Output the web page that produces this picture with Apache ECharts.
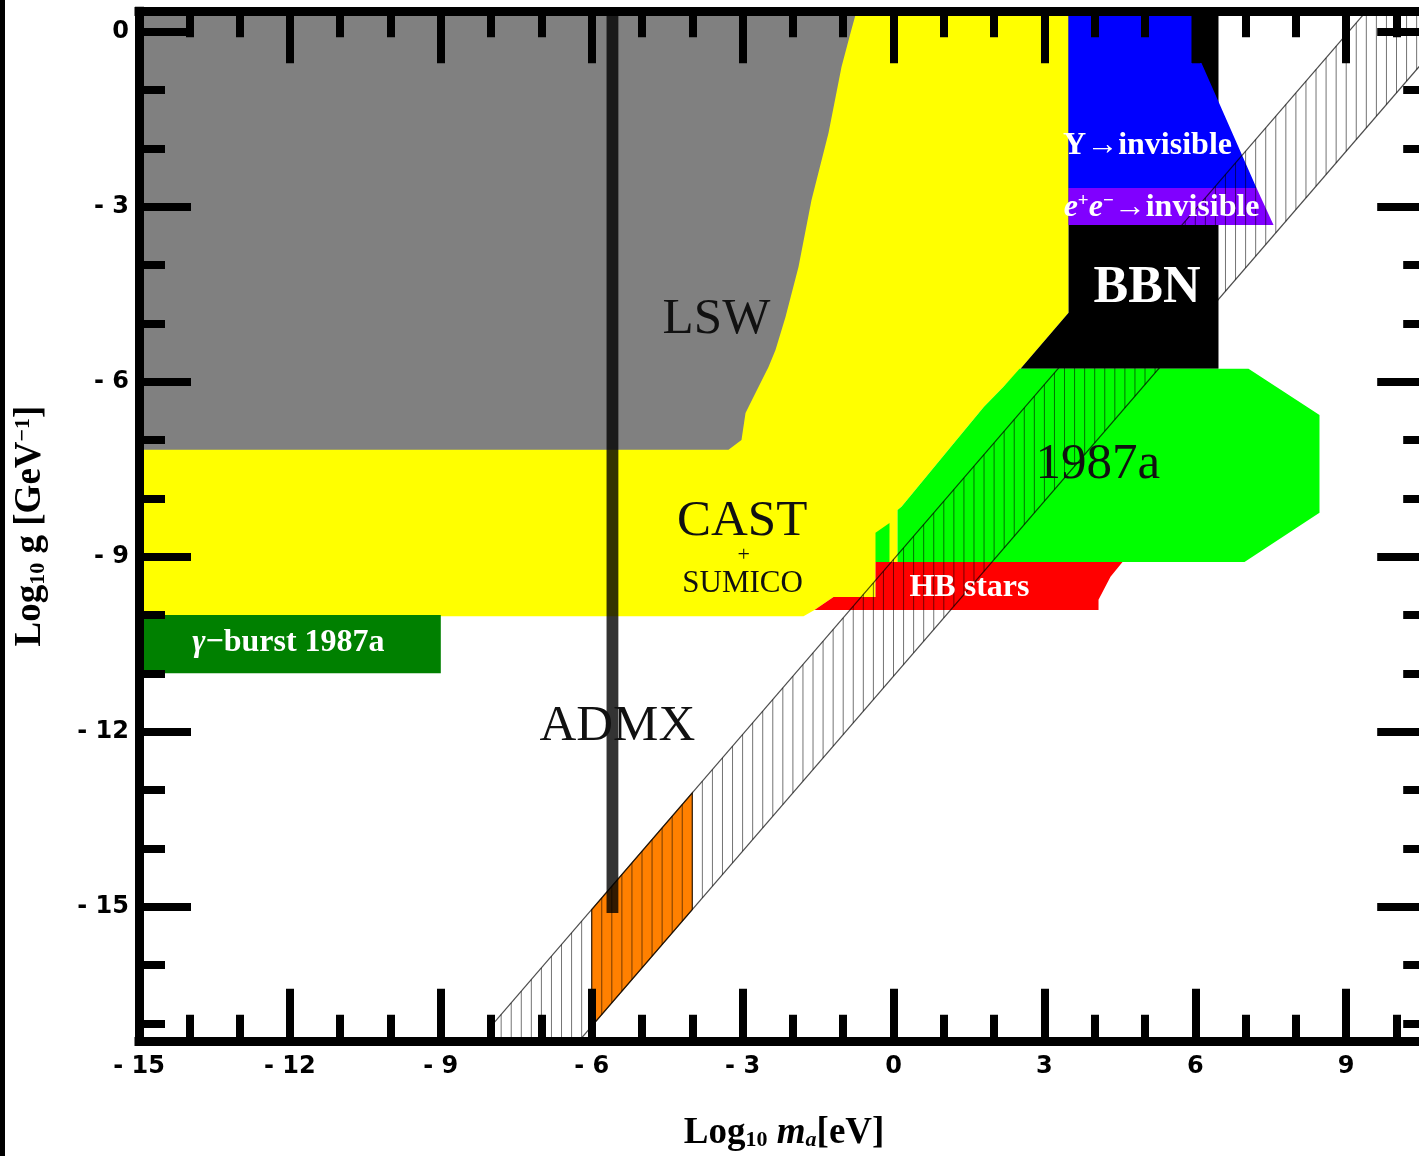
<!DOCTYPE html>
<html>
<head>
<meta charset="utf-8">
<title>Axion-like particle exclusion limits</title>
<script src="https://cdn.jsdelivr.net/npm/echarts@6.0.0/dist/echarts.min.js"></script>
<style>
  html, body { margin: 0; padding: 0; background: #fff; }
  #chart { width: 1419px; height: 1156px; }
</style>
</head>
<body>
<div id="chart"></div>
<script>
// ---------- axes (log10 units) ----------
const xExtent = [-15, 10.65];
const yExtent = [-17.3, 0.35];
const xMajorTicks = [-15, -12, -9, -6, -3, 0, 3, 6, 9];
const xMinorTicks = [-14, -13, -11, -10, -8, -7, -5, -4, -2, -1, 1, 2, 4, 5, 7, 8, 10];
const yMajorTicks = [0, -3, -6, -9, -12, -15];
const yMinorTicks = [-1, -2, -4, -5, -7, -8, -10, -11, -13, -14, -16, -17];

// ---------- excluded regions: vertices [log10 m_a (eV), log10 g (GeV^-1)] ----------
const castSumico = [[-15, 0.35], [3.48, 0.35], [3.48, -4.82], [2.525, -5.78], [2.187, -6.087],
  [1.799, -6.429], [1.093, -7.17], [0.159, -8.147], [0.08, -8.199], [0.08, -9.09], [-0.358, -9.09],
  [-0.358, -9.69], [-1.193, -9.69], [-1.571, -9.913], [-1.789, -10.02], [-15, -10.02]];
const lsw = [[-15, 0.35], [-0.736, 0.35], [-0.855, -0.024], [-1.034, -0.607], [-1.292, -1.738],
  [-1.63, -2.886], [-1.889, -4.034], [-2.147, -4.891], [-2.346, -5.457], [-2.485, -5.748],
  [-2.744, -6.194], [-2.942, -6.537], [-3.022, -6.999], [-3.28, -7.17], [-15, -7.17]];
const bbn = [[2.525, -5.78], [3.48, -4.82], [3.48, 0.35], [6.461, 0.35], [6.461, -5.78]];
const upsilonInvisible = [[3.48, 0.35], [5.924, 0.35], [5.924, -0.538], [6.123, -0.538],
  [7.217, -2.68], [3.48, -2.68]];
const eeInvisible = [[3.48, -2.68], [7.217, -2.68], [7.555, -3.315], [3.48, -3.315]];
const sn1987a = [[2.505, -5.78], [7.058, -5.78], [8.469, -6.571], [8.469, -8.25], [6.978, -9.09],
  [0.08, -9.09], [0.08, -8.199], [0.159, -8.147], [1.093, -7.17], [1.799, -6.429], [2.187, -6.087]];
const sn1987aSliver = [[-0.358, -9.09], [-0.358, -8.59], [-0.08, -8.422], [-0.08, -9.09]];
const hbStars = [[-1.571, -9.913], [-1.193, -9.69], [-0.358, -9.69], [-0.358, -9.09], [4.553, -9.09],
  [4.314, -9.347], [4.076, -9.74], [4.076, -9.913]];
const gammaBurst = [[-15, -10], [-9, -10], [-9, -11], [-15, -11]];
const admxReach = [[-6, -15.05], [-4, -13.05], [-4, -15.05], [-6, -17.05]];
const admx = [[-5.705, 0.35], [-5.47, 0.35], [-5.47, -15.11], [-5.705, -15.11]];

// ---------- axion model band (edges) ----------
const axionBandUpper = [[-8, -17.05], [11, 1.95]];
const axionBandLower = [[-8, -19.05], [11, -0.05]];

// ---------- region labels ----------
const annotations = [
  { text: 'LSW', at: [-3.52, -4.94], style: 'dark' },
  { text: 'CAST', at: [-3.01, -8.40], style: 'dark' },
  { text: '+', at: [-2.98, -8.97], style: 'darkSmall' },
  { text: 'SUMICO', at: [-3.0, -9.46], style: 'darkMid' },
  { text: 'ADMX', at: [-5.49, -11.92], style: 'dark' },
  { text: '1987a', at: [4.06, -7.43], style: 'dark' },
  { text: 'BBN', at: [5.04, -4.40], style: 'lightBig' },
  { text: '\u03A5\u2192invisible', at: [5.05, -1.95], style: 'light' },
  { text: '{it|e}{sup|+}{it|e}{sup|\u2212}\u2192invisible', at: [5.33, -3.02], style: 'light' },
  { text: 'HB stars', at: [1.51, -9.53], style: 'light' },
  { text: '{it|\u03B3}\u2212burst 1987a', at: [-12.03, -10.47], style: 'light' }
];

// ---------- styling ----------
const SERIF = '"Liberation Serif", "Times New Roman", serif';
const SANS = '"DejaVu Sans", sans-serif';

const regionLayers = [
  { pts: castSumico, fill: '#ffff00' },
  { pts: lsw, fill: '#808080' },
  { pts: bbn, fill: '#000000' },
  { pts: upsilonInvisible, fill: '#0000ff' },
  { pts: eeInvisible, fill: '#8000ff' },
  { pts: sn1987a, fill: '#00ff00' },
  { pts: sn1987aSliver, fill: '#00ff00' },
  { pts: hbStars, fill: '#ff0000' },
  { pts: gammaBurst, fill: '#008000' },
  { pts: admxReach, fill: '#ff8000', stroke: 'rgba(60,30,0,0.8)', lineWidth: 1.2 },
  { pts: admx, fill: 'rgba(0,0,0,0.8)' }
];

const HATCH_STEP = 0.2;

const labelStyles = {
  dark:      { size: 51, weight: 'normal', color: '#111' },
  darkSmall: { size: 22, weight: 'normal', color: '#111' },
  darkMid:   { size: 31, weight: 'normal', color: '#111' },
  lightBig:  { size: 52, weight: 'bold', color: '#fff' },
  light:     { size: 32, weight: 'bold', color: '#fff' }
};

function lerpY(line, x) {
  const [[x0, y0], [x1, y1]] = line;
  return y0 + (y1 - y0) * (x - x0) / (x1 - x0);
}

function frameAxis(position, majors, minors, isMajor, withLabels) {
  const isX = position === 'bottom' || position === 'top';
  const ext = isX ? xExtent : yExtent;
  return {
    type: 'value',
    position: position,
    min: ext[0],
    max: ext[1],
    z: 20,
    splitLine: { show: false },
    minorTick: { show: false },
    axisLine: {
      show: isMajor,
      onZero: false,
      lineStyle: { color: '#000', width: 9, cap: 'square' }
    },
    axisTick: {
      show: true,
      inside: true,
      length: isMajor ? 52 : 26,
      customValues: isMajor ? majors : minors,
      lineStyle: { color: '#000', width: 8 }
    },
    axisLabel: {
      show: withLabels,
      customValues: majors,
      margin: isX ? 14 : 10,
      color: '#000',
      fontFamily: SANS,
      fontWeight: 'bold',
      fontSize: 24,
      formatter: v => (v < 0 ? '- ' + (-v) : String(v))
    }
  };
}

const xAxes = [
  frameAxis('bottom', xMajorTicks, xMinorTicks, true, true),
  frameAxis('bottom', xMajorTicks, xMinorTicks, false, false),
  frameAxis('top', xMajorTicks, xMinorTicks, true, false),
  frameAxis('top', xMajorTicks, xMinorTicks, false, false)
];
const yAxes = [
  frameAxis('left', yMajorTicks, yMinorTicks, true, true),
  frameAxis('left', yMajorTicks, yMinorTicks, false, false),
  frameAxis('right', yMajorTicks, yMinorTicks, true, false),
  frameAxis('right', yMajorTicks, yMinorTicks, false, false)
];

const titleRich = {
  b:  { fontFamily: SERIF, fontWeight: 'bold', fontSize: 37, color: '#000' },
  s:  { fontFamily: SERIF, fontWeight: 'bold', fontSize: 22, color: '#000', verticalAlign: 'bottom', lineHeight: 14 },
  i:  { fontFamily: SERIF, fontWeight: 'bold', fontStyle: 'italic', fontSize: 37, color: '#000' },
  si: { fontFamily: SERIF, fontWeight: 'bold', fontStyle: 'italic', fontSize: 22, color: '#000', verticalAlign: 'bottom', lineHeight: 14 },
  p:  { fontFamily: SERIF, fontWeight: 'bold', fontSize: 22, color: '#000', verticalAlign: 'top', lineHeight: 16 }
};

xAxes[0].name = '{b|Log}{s|10}{b| }{i|m}{si|a}{b|[eV]}';
xAxes[0].nameLocation = 'middle';
xAxes[0].nameGap = 74;
xAxes[0].nameTextStyle = { rich: titleRich };

yAxes[0].name = '{b|Log}{s|10}{b| g [GeV}{p|\u22121}{b|]}';
yAxes[0].nameLocation = 'middle';
yAxes[0].nameGap = 90;
yAxes[0].nameRotate = 90;
yAxes[0].nameTextStyle = { rich: titleRich };

const option = {
  animation: false,
  backgroundColor: '#ffffff',
  grid: { left: 139, top: 11.2, right: -10.2, bottom: 115.2, containLabel: false, outerBoundsMode: 'none' },
  xAxis: xAxes,
  yAxis: yAxes,
  graphic: [
    { type: 'rect', left: 0, top: 0, shape: { width: 5, height: 1156 }, style: { fill: '#000' }, z: 100 }
  ],
  series: [
    {
      type: 'custom',
      name: 'excluded regions',
      clip: true,
      silent: true,
      data: regionLayers.map((r, i) => [r.pts[0][0], r.pts[0][1], i]),
      renderItem(params, api) {
        const layer = regionLayers[params.dataIndex];
        return {
          type: 'polygon',
          shape: { points: layer.pts.map(p => api.coord(p)) },
          style: {
            fill: layer.fill,
            stroke: layer.stroke || null,
            lineWidth: layer.lineWidth || 0
          }
        };
      },
      z: 2
    },
    {
      type: 'custom',
      name: 'axion band',
      clip: true,
      silent: true,
      data: [[axionBandUpper[0][0], axionBandUpper[0][1]]],
      renderItem(params, api) {
        const children = [];
        const x0 = axionBandUpper[0][0];
        const x1 = axionBandUpper[1][0];
        const n = Math.round((x1 - x0) / HATCH_STEP);
        for (let k = 0; k <= n; k++) {
          const x = x0 + k * HATCH_STEP;
          const a = api.coord([x, lerpY(axionBandLower, x)]);
          const b = api.coord([x, lerpY(axionBandUpper, x)]);
          children.push({
            type: 'line',
            shape: { x1: a[0], y1: a[1], x2: b[0], y2: b[1] },
            style: { stroke: 'rgba(0,0,0,0.55)', lineWidth: 1 }
          });
        }
        [axionBandUpper, axionBandLower].forEach(edge => {
          const a = api.coord(edge[0]);
          const b = api.coord(edge[1]);
          children.push({
            type: 'line',
            shape: { x1: a[0], y1: a[1], x2: b[0], y2: b[1] },
            style: { stroke: 'rgba(0,0,0,0.7)', lineWidth: 1.2 }
          });
        });
        return { type: 'group', children };
      },
      z: 3
    },
    {
      type: 'custom',
      name: 'labels',
      clip: false,
      silent: true,
      data: annotations.map(a => a.at),
      renderItem(params, api) {
        const a = annotations[params.dataIndex];
        const s = labelStyles[a.style];
        const c = api.coord(a.at);
        return {
          type: 'text',
          x: c[0],
          y: c[1],
          style: {
            text: a.text,
            align: 'center',
            verticalAlign: 'middle',
            fill: s.color,
            fontFamily: SERIF,
            fontSize: s.size,
            fontWeight: s.weight,
            rich: {
              it: { fontFamily: SERIF, fontStyle: 'italic', fontWeight: s.weight, fontSize: s.size, fill: s.color },
              sup: { fontFamily: SERIF, fontWeight: s.weight, fontSize: Math.round(s.size * 0.6), fill: s.color, verticalAlign: 'top', lineHeight: Math.round(s.size * 0.5) }
            }
          }
        };
      },
      z: 5
    }
  ]
};

const chart = echarts.init(document.getElementById('chart'), null, { renderer: 'canvas' });
chart.setOption(option);
</script>
</body>
</html>
